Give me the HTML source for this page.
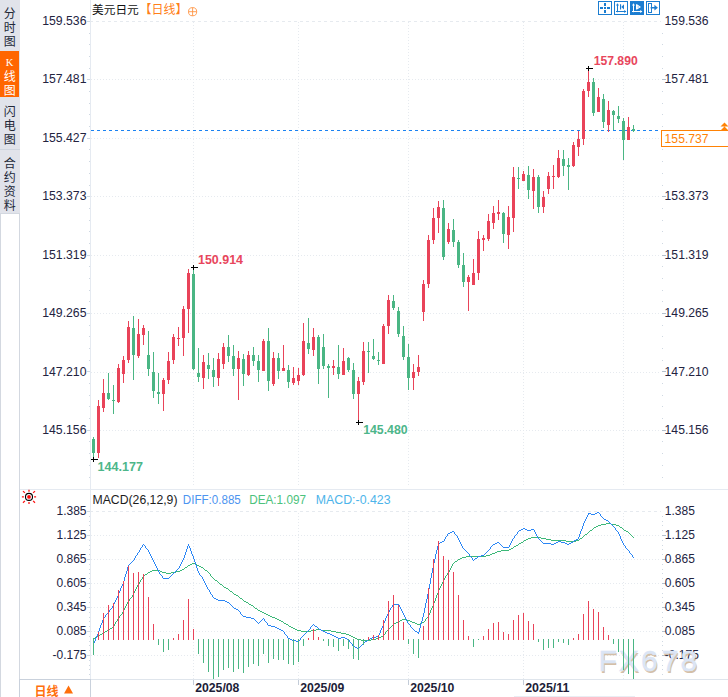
<!DOCTYPE html>
<html lang="zh-CN"><head><meta charset="utf-8"><title>美元日元 日线 K线图</title>
<style>html,body{margin:0;padding:0;background:#fff;overflow:hidden}body{width:728px;height:697px;font-family:"Liberation Sans",sans-serif}svg{display:block}text{font-family:"Liberation Sans",sans-serif}text.cjk{font-family:"Liberation Sans","Noto Sans CJK SC",sans-serif}</style>
</head><body>
<svg width="728" height="697" viewBox="0 0 728 697">
<rect x="0" y="0" width="728" height="697" fill="#fff"/>
<g shape-rendering="crispEdges">
<rect x="0" y="0" width="20" height="213" fill="#e1e3ea"/>
<rect x="0" y="51" width="19" height="46" fill="#ff6600"/>
<rect x="0" y="149" width="20" height="1" fill="#cfd5de"/>
<rect x="0" y="213" width="1" height="484" fill="#d3d8e0"/>
<rect x="19" y="213" width="1" height="484" fill="#d3d8e0"/>
<rect x="0" y="213" width="20" height="1" fill="#d3d8e0"/>
</g>
<text class="cjk" x="9.7" y="17.5" font-size="12" fill="#222838" text-anchor="middle">分</text>
<text class="cjk" x="9.7" y="31.5" font-size="12" fill="#222838" text-anchor="middle">时</text>
<text class="cjk" x="9.7" y="45.5" font-size="12" fill="#222838" text-anchor="middle">图</text>
<text x="9.5" y="65.5" font-size="10.5" fill="#fff" text-anchor="middle" style="font-family:'Liberation Serif',serif">K</text>
<text class="cjk" x="9.7" y="80.5" font-size="12" fill="#fff" text-anchor="middle">线</text>
<text class="cjk" x="9.7" y="94.5" font-size="12" fill="#fff" text-anchor="middle">图</text>
<text class="cjk" x="9.7" y="115.5" font-size="12" fill="#222838" text-anchor="middle">闪</text>
<text class="cjk" x="9.7" y="129.5" font-size="12" fill="#222838" text-anchor="middle">电</text>
<text class="cjk" x="9.7" y="143.5" font-size="12" fill="#222838" text-anchor="middle">图</text>
<text class="cjk" x="9.7" y="167.5" font-size="12" fill="#222838" text-anchor="middle">合</text>
<text class="cjk" x="9.7" y="181.5" font-size="12" fill="#222838" text-anchor="middle">约</text>
<text class="cjk" x="9.7" y="195.5" font-size="12" fill="#222838" text-anchor="middle">资</text>
<text class="cjk" x="9.7" y="209.5" font-size="12" fill="#222838" text-anchor="middle">料</text>
<g shape-rendering="crispEdges">
<rect x="90" y="0" width="1" height="697" fill="#e5eaf1"/>
<line x1="90" x2="661" y1="21.5" y2="21.5" stroke="#e6eaef" stroke-width="1" stroke-dasharray="3 3" stroke-dashoffset="0"/>
<line x1="91" x2="661" y1="79.5" y2="79.5" stroke="#e6eaef" stroke-width="1" stroke-dasharray="1 2" stroke-dashoffset="0"/>
<line x1="91" x2="661" y1="138.5" y2="138.5" stroke="#e6eaef" stroke-width="1" stroke-dasharray="1 2" stroke-dashoffset="0"/>
<line x1="91" x2="661" y1="196.5" y2="196.5" stroke="#e6eaef" stroke-width="1" stroke-dasharray="1 2" stroke-dashoffset="0"/>
<line x1="91" x2="661" y1="255.5" y2="255.5" stroke="#e6eaef" stroke-width="1" stroke-dasharray="1 2" stroke-dashoffset="0"/>
<line x1="91" x2="661" y1="313.5" y2="313.5" stroke="#e6eaef" stroke-width="1" stroke-dasharray="1 2" stroke-dashoffset="0"/>
<line x1="91" x2="661" y1="372.5" y2="372.5" stroke="#e6eaef" stroke-width="1" stroke-dasharray="1 2" stroke-dashoffset="0"/>
<line x1="91" x2="661" y1="430.5" y2="430.5" stroke="#e6eaef" stroke-width="1" stroke-dasharray="1 2" stroke-dashoffset="0"/>
<line x1="193.5" x2="193.5" y1="22" y2="487" stroke="#e6eaef" stroke-width="1" stroke-dasharray="1 2" stroke-dashoffset="0"/>
<line x1="193.5" x2="193.5" y1="513" y2="679" stroke="#e6eaef" stroke-width="1" stroke-dasharray="1 2" stroke-dashoffset="0"/>
<line x1="298.5" x2="298.5" y1="22" y2="487" stroke="#e6eaef" stroke-width="1" stroke-dasharray="1 2" stroke-dashoffset="0"/>
<line x1="298.5" x2="298.5" y1="513" y2="679" stroke="#e6eaef" stroke-width="1" stroke-dasharray="1 2" stroke-dashoffset="0"/>
<line x1="408.5" x2="408.5" y1="22" y2="487" stroke="#e6eaef" stroke-width="1" stroke-dasharray="1 2" stroke-dashoffset="0"/>
<line x1="408.5" x2="408.5" y1="513" y2="679" stroke="#e6eaef" stroke-width="1" stroke-dasharray="1 2" stroke-dashoffset="0"/>
<line x1="523.5" x2="523.5" y1="22" y2="487" stroke="#e6eaef" stroke-width="1" stroke-dasharray="1 2" stroke-dashoffset="0"/>
<line x1="523.5" x2="523.5" y1="513" y2="679" stroke="#e6eaef" stroke-width="1" stroke-dasharray="1 2" stroke-dashoffset="0"/>
<line x1="623.5" x2="623.5" y1="22" y2="487" stroke="#e6eaef" stroke-width="1" stroke-dasharray="1 2" stroke-dashoffset="0"/>
<line x1="623.5" x2="623.5" y1="513" y2="679" stroke="#e6eaef" stroke-width="1" stroke-dasharray="1 2" stroke-dashoffset="0"/>
<rect x="87" y="21" width="3" height="1" fill="#cfd8e2"/>
<rect x="89" y="33" width="1" height="1" fill="#cfd8e2"/>
<rect x="662" y="33" width="1" height="1" fill="#cfd8e2"/>
<rect x="89" y="44" width="1" height="1" fill="#cfd8e2"/>
<rect x="662" y="44" width="1" height="1" fill="#cfd8e2"/>
<rect x="89" y="56" width="1" height="1" fill="#cfd8e2"/>
<rect x="662" y="56" width="1" height="1" fill="#cfd8e2"/>
<rect x="89" y="68" width="1" height="1" fill="#cfd8e2"/>
<rect x="662" y="68" width="1" height="1" fill="#cfd8e2"/>
<rect x="87" y="79" width="3" height="1" fill="#cfd8e2"/>
<rect x="662" y="79" width="4" height="1" fill="#b5c0cd"/>
<rect x="89" y="91" width="1" height="1" fill="#cfd8e2"/>
<rect x="662" y="91" width="1" height="1" fill="#cfd8e2"/>
<rect x="89" y="103" width="1" height="1" fill="#cfd8e2"/>
<rect x="662" y="103" width="1" height="1" fill="#cfd8e2"/>
<rect x="89" y="114" width="1" height="1" fill="#cfd8e2"/>
<rect x="662" y="114" width="1" height="1" fill="#cfd8e2"/>
<rect x="89" y="126" width="1" height="1" fill="#cfd8e2"/>
<rect x="662" y="126" width="1" height="1" fill="#cfd8e2"/>
<rect x="87" y="138" width="3" height="1" fill="#cfd8e2"/>
<rect x="662" y="138" width="4" height="1" fill="#b5c0cd"/>
<rect x="89" y="149" width="1" height="1" fill="#cfd8e2"/>
<rect x="662" y="149" width="1" height="1" fill="#cfd8e2"/>
<rect x="89" y="161" width="1" height="1" fill="#cfd8e2"/>
<rect x="662" y="161" width="1" height="1" fill="#cfd8e2"/>
<rect x="89" y="173" width="1" height="1" fill="#cfd8e2"/>
<rect x="662" y="173" width="1" height="1" fill="#cfd8e2"/>
<rect x="89" y="185" width="1" height="1" fill="#cfd8e2"/>
<rect x="662" y="185" width="1" height="1" fill="#cfd8e2"/>
<rect x="87" y="196" width="3" height="1" fill="#cfd8e2"/>
<rect x="662" y="196" width="4" height="1" fill="#b5c0cd"/>
<rect x="89" y="208" width="1" height="1" fill="#cfd8e2"/>
<rect x="662" y="208" width="1" height="1" fill="#cfd8e2"/>
<rect x="89" y="220" width="1" height="1" fill="#cfd8e2"/>
<rect x="662" y="220" width="1" height="1" fill="#cfd8e2"/>
<rect x="89" y="231" width="1" height="1" fill="#cfd8e2"/>
<rect x="662" y="231" width="1" height="1" fill="#cfd8e2"/>
<rect x="89" y="243" width="1" height="1" fill="#cfd8e2"/>
<rect x="662" y="243" width="1" height="1" fill="#cfd8e2"/>
<rect x="87" y="255" width="3" height="1" fill="#cfd8e2"/>
<rect x="662" y="255" width="4" height="1" fill="#b5c0cd"/>
<rect x="89" y="266" width="1" height="1" fill="#cfd8e2"/>
<rect x="662" y="266" width="1" height="1" fill="#cfd8e2"/>
<rect x="89" y="278" width="1" height="1" fill="#cfd8e2"/>
<rect x="662" y="278" width="1" height="1" fill="#cfd8e2"/>
<rect x="89" y="290" width="1" height="1" fill="#cfd8e2"/>
<rect x="662" y="290" width="1" height="1" fill="#cfd8e2"/>
<rect x="89" y="301" width="1" height="1" fill="#cfd8e2"/>
<rect x="662" y="301" width="1" height="1" fill="#cfd8e2"/>
<rect x="87" y="313" width="3" height="1" fill="#cfd8e2"/>
<rect x="662" y="313" width="4" height="1" fill="#b5c0cd"/>
<rect x="89" y="325" width="1" height="1" fill="#cfd8e2"/>
<rect x="662" y="325" width="1" height="1" fill="#cfd8e2"/>
<rect x="89" y="336" width="1" height="1" fill="#cfd8e2"/>
<rect x="662" y="336" width="1" height="1" fill="#cfd8e2"/>
<rect x="89" y="348" width="1" height="1" fill="#cfd8e2"/>
<rect x="662" y="348" width="1" height="1" fill="#cfd8e2"/>
<rect x="89" y="360" width="1" height="1" fill="#cfd8e2"/>
<rect x="662" y="360" width="1" height="1" fill="#cfd8e2"/>
<rect x="87" y="371" width="3" height="1" fill="#cfd8e2"/>
<rect x="662" y="371" width="4" height="1" fill="#b5c0cd"/>
<rect x="89" y="383" width="1" height="1" fill="#cfd8e2"/>
<rect x="662" y="383" width="1" height="1" fill="#cfd8e2"/>
<rect x="89" y="395" width="1" height="1" fill="#cfd8e2"/>
<rect x="662" y="395" width="1" height="1" fill="#cfd8e2"/>
<rect x="89" y="406" width="1" height="1" fill="#cfd8e2"/>
<rect x="662" y="406" width="1" height="1" fill="#cfd8e2"/>
<rect x="89" y="418" width="1" height="1" fill="#cfd8e2"/>
<rect x="662" y="418" width="1" height="1" fill="#cfd8e2"/>
<rect x="87" y="430" width="3" height="1" fill="#cfd8e2"/>
<rect x="662" y="430" width="4" height="1" fill="#b5c0cd"/>
<rect x="89" y="441" width="1" height="1" fill="#cfd8e2"/>
<rect x="662" y="441" width="1" height="1" fill="#cfd8e2"/>
<rect x="89" y="453" width="1" height="1" fill="#cfd8e2"/>
<rect x="662" y="453" width="1" height="1" fill="#cfd8e2"/>
<rect x="89" y="465" width="1" height="1" fill="#cfd8e2"/>
<rect x="662" y="465" width="1" height="1" fill="#cfd8e2"/>
<rect x="89" y="477" width="1" height="1" fill="#cfd8e2"/>
<rect x="662" y="477" width="1" height="1" fill="#cfd8e2"/>
<rect x="20" y="489" width="708" height="1" fill="#e5eaf1"/>
<line x1="90" x2="661" y1="511.5" y2="511.5" stroke="#e6eaef" stroke-width="1" stroke-dasharray="3 3" stroke-dashoffset="0"/>
<line x1="91" x2="661" y1="535.5" y2="535.5" stroke="#e6eaef" stroke-width="1" stroke-dasharray="1 2" stroke-dashoffset="0"/>
<line x1="91" x2="661" y1="559.5" y2="559.5" stroke="#e6eaef" stroke-width="1" stroke-dasharray="1 2" stroke-dashoffset="0"/>
<line x1="91" x2="661" y1="583.5" y2="583.5" stroke="#e6eaef" stroke-width="1" stroke-dasharray="1 2" stroke-dashoffset="0"/>
<line x1="91" x2="661" y1="607.5" y2="607.5" stroke="#e6eaef" stroke-width="1" stroke-dasharray="1 2" stroke-dashoffset="0"/>
<line x1="91" x2="661" y1="631.5" y2="631.5" stroke="#e6eaef" stroke-width="1" stroke-dasharray="1 2" stroke-dashoffset="0"/>
<line x1="91" x2="661" y1="655.5" y2="655.5" stroke="#e6eaef" stroke-width="1" stroke-dasharray="1 2" stroke-dashoffset="0"/>
<rect x="87" y="511" width="3" height="1" fill="#cfd8e2"/>
<rect x="89" y="516" width="1" height="1" fill="#cfd8e2"/>
<rect x="662" y="516" width="1" height="1" fill="#cfd8e2"/>
<rect x="89" y="521" width="1" height="1" fill="#cfd8e2"/>
<rect x="662" y="521" width="1" height="1" fill="#cfd8e2"/>
<rect x="89" y="525" width="1" height="1" fill="#cfd8e2"/>
<rect x="662" y="525" width="1" height="1" fill="#cfd8e2"/>
<rect x="89" y="530" width="1" height="1" fill="#cfd8e2"/>
<rect x="662" y="530" width="1" height="1" fill="#cfd8e2"/>
<rect x="87" y="535" width="3" height="1" fill="#cfd8e2"/>
<rect x="662" y="535" width="4" height="1" fill="#b5c0cd"/>
<rect x="89" y="540" width="1" height="1" fill="#cfd8e2"/>
<rect x="662" y="540" width="1" height="1" fill="#cfd8e2"/>
<rect x="89" y="545" width="1" height="1" fill="#cfd8e2"/>
<rect x="662" y="545" width="1" height="1" fill="#cfd8e2"/>
<rect x="89" y="549" width="1" height="1" fill="#cfd8e2"/>
<rect x="662" y="549" width="1" height="1" fill="#cfd8e2"/>
<rect x="89" y="554" width="1" height="1" fill="#cfd8e2"/>
<rect x="662" y="554" width="1" height="1" fill="#cfd8e2"/>
<rect x="87" y="559" width="3" height="1" fill="#cfd8e2"/>
<rect x="662" y="559" width="4" height="1" fill="#b5c0cd"/>
<rect x="89" y="564" width="1" height="1" fill="#cfd8e2"/>
<rect x="662" y="564" width="1" height="1" fill="#cfd8e2"/>
<rect x="89" y="569" width="1" height="1" fill="#cfd8e2"/>
<rect x="662" y="569" width="1" height="1" fill="#cfd8e2"/>
<rect x="89" y="573" width="1" height="1" fill="#cfd8e2"/>
<rect x="662" y="573" width="1" height="1" fill="#cfd8e2"/>
<rect x="89" y="578" width="1" height="1" fill="#cfd8e2"/>
<rect x="662" y="578" width="1" height="1" fill="#cfd8e2"/>
<rect x="87" y="583" width="3" height="1" fill="#cfd8e2"/>
<rect x="662" y="583" width="4" height="1" fill="#b5c0cd"/>
<rect x="89" y="588" width="1" height="1" fill="#cfd8e2"/>
<rect x="662" y="588" width="1" height="1" fill="#cfd8e2"/>
<rect x="89" y="593" width="1" height="1" fill="#cfd8e2"/>
<rect x="662" y="593" width="1" height="1" fill="#cfd8e2"/>
<rect x="89" y="597" width="1" height="1" fill="#cfd8e2"/>
<rect x="662" y="597" width="1" height="1" fill="#cfd8e2"/>
<rect x="89" y="602" width="1" height="1" fill="#cfd8e2"/>
<rect x="662" y="602" width="1" height="1" fill="#cfd8e2"/>
<rect x="87" y="607" width="3" height="1" fill="#cfd8e2"/>
<rect x="662" y="607" width="4" height="1" fill="#b5c0cd"/>
<rect x="89" y="612" width="1" height="1" fill="#cfd8e2"/>
<rect x="662" y="612" width="1" height="1" fill="#cfd8e2"/>
<rect x="89" y="617" width="1" height="1" fill="#cfd8e2"/>
<rect x="662" y="617" width="1" height="1" fill="#cfd8e2"/>
<rect x="89" y="621" width="1" height="1" fill="#cfd8e2"/>
<rect x="662" y="621" width="1" height="1" fill="#cfd8e2"/>
<rect x="89" y="626" width="1" height="1" fill="#cfd8e2"/>
<rect x="662" y="626" width="1" height="1" fill="#cfd8e2"/>
<rect x="87" y="631" width="3" height="1" fill="#cfd8e2"/>
<rect x="662" y="631" width="4" height="1" fill="#b5c0cd"/>
<rect x="89" y="636" width="1" height="1" fill="#cfd8e2"/>
<rect x="662" y="636" width="1" height="1" fill="#cfd8e2"/>
<rect x="89" y="641" width="1" height="1" fill="#cfd8e2"/>
<rect x="662" y="641" width="1" height="1" fill="#cfd8e2"/>
<rect x="89" y="645" width="1" height="1" fill="#cfd8e2"/>
<rect x="662" y="645" width="1" height="1" fill="#cfd8e2"/>
<rect x="89" y="650" width="1" height="1" fill="#cfd8e2"/>
<rect x="662" y="650" width="1" height="1" fill="#cfd8e2"/>
<rect x="87" y="655" width="3" height="1" fill="#cfd8e2"/>
<rect x="662" y="655" width="4" height="1" fill="#b5c0cd"/>
<rect x="89" y="660" width="1" height="1" fill="#cfd8e2"/>
<rect x="662" y="660" width="1" height="1" fill="#cfd8e2"/>
<rect x="89" y="665" width="1" height="1" fill="#cfd8e2"/>
<rect x="662" y="665" width="1" height="1" fill="#cfd8e2"/>
<rect x="89" y="669" width="1" height="1" fill="#cfd8e2"/>
<rect x="662" y="669" width="1" height="1" fill="#cfd8e2"/>
<rect x="89" y="674" width="1" height="1" fill="#cfd8e2"/>
<rect x="662" y="674" width="1" height="1" fill="#cfd8e2"/>
<rect x="20" y="679" width="708" height="1" fill="#dfe5ec"/>
<rect x="19" y="679" width="72" height="1" fill="#c9d1dc"/>
<rect x="19" y="679" width="1" height="18" fill="#c9d1dc"/>
<rect x="90" y="679" width="1" height="18" fill="#c9d1dc"/>
<rect x="193" y="680" width="1" height="5" fill="#c3ccd8"/>
<rect x="298" y="680" width="1" height="5" fill="#c3ccd8"/>
<rect x="408" y="680" width="1" height="5" fill="#c3ccd8"/>
<rect x="523" y="680" width="1" height="5" fill="#c3ccd8"/>
<rect x="514" y="696" width="121" height="1" fill="#e9edf3"/>
</g>
<text x="86.5" y="25.3" font-size="12" fill="#23233f" text-anchor="end" textLength="44.3" lengthAdjust="spacingAndGlyphs">159.536</text>
<text x="664.6" y="25.3" font-size="12" fill="#23233f" textLength="44" lengthAdjust="spacingAndGlyphs">159.536</text>
<text x="86.5" y="83.3" font-size="12" fill="#23233f" text-anchor="end" textLength="44.3" lengthAdjust="spacingAndGlyphs">157.481</text>
<text x="664.6" y="83.3" font-size="12" fill="#23233f" textLength="44" lengthAdjust="spacingAndGlyphs">157.481</text>
<text x="86.5" y="142.3" font-size="12" fill="#23233f" text-anchor="end" textLength="44.3" lengthAdjust="spacingAndGlyphs">155.427</text>
<text x="664.6" y="142.3" font-size="12" fill="#23233f" textLength="44" lengthAdjust="spacingAndGlyphs">155.427</text>
<text x="86.5" y="200.3" font-size="12" fill="#23233f" text-anchor="end" textLength="44.3" lengthAdjust="spacingAndGlyphs">153.373</text>
<text x="664.6" y="200.3" font-size="12" fill="#23233f" textLength="44" lengthAdjust="spacingAndGlyphs">153.373</text>
<text x="86.5" y="259.3" font-size="12" fill="#23233f" text-anchor="end" textLength="44.3" lengthAdjust="spacingAndGlyphs">151.319</text>
<text x="664.6" y="259.3" font-size="12" fill="#23233f" textLength="44" lengthAdjust="spacingAndGlyphs">151.319</text>
<text x="86.5" y="317.3" font-size="12" fill="#23233f" text-anchor="end" textLength="44.3" lengthAdjust="spacingAndGlyphs">149.265</text>
<text x="664.6" y="317.3" font-size="12" fill="#23233f" textLength="44" lengthAdjust="spacingAndGlyphs">149.265</text>
<text x="86.5" y="376.3" font-size="12" fill="#23233f" text-anchor="end" textLength="44.3" lengthAdjust="spacingAndGlyphs">147.210</text>
<text x="664.6" y="376.3" font-size="12" fill="#23233f" textLength="44" lengthAdjust="spacingAndGlyphs">147.210</text>
<text x="86.5" y="434.3" font-size="12" fill="#23233f" text-anchor="end" textLength="44.3" lengthAdjust="spacingAndGlyphs">145.156</text>
<text x="664.6" y="434.3" font-size="12" fill="#23233f" textLength="44" lengthAdjust="spacingAndGlyphs">145.156</text>
<text x="86.5" y="515.4" font-size="12" fill="#23233f" text-anchor="end">1.385</text>
<text x="664.8" y="515.4" font-size="12" fill="#23233f">1.385</text>
<text x="86.5" y="539.4" font-size="12" fill="#23233f" text-anchor="end">1.125</text>
<text x="664.8" y="539.4" font-size="12" fill="#23233f">1.125</text>
<text x="86.5" y="563.4" font-size="12" fill="#23233f" text-anchor="end">0.865</text>
<text x="664.8" y="563.4" font-size="12" fill="#23233f">0.865</text>
<text x="86.5" y="587.4" font-size="12" fill="#23233f" text-anchor="end">0.605</text>
<text x="664.8" y="587.4" font-size="12" fill="#23233f">0.605</text>
<text x="86.5" y="611.4" font-size="12" fill="#23233f" text-anchor="end">0.345</text>
<text x="664.8" y="611.4" font-size="12" fill="#23233f">0.345</text>
<text x="86.5" y="635.4" font-size="12" fill="#23233f" text-anchor="end">0.085</text>
<text x="664.8" y="635.4" font-size="12" fill="#23233f">0.085</text>
<text x="86.5" y="659.4" font-size="12" fill="#23233f" text-anchor="end">-0.175</text>
<text x="664.8" y="659.4" font-size="12" fill="#23233f">-0.175</text>
<g font-size="30" style="letter-spacing:2.1px">
<text x="599.4" y="672.5" fill="#b8946c" fill-opacity="0.6">FX6<tspan dx="2">78</tspan></text>
<text x="598.4" y="671.4" fill="#dbe5f5" stroke="#dbe5f5" stroke-width="0.5">FX6<tspan dx="2">78</tspan></text>
</g>
<g shape-rendering="crispEdges">
<line x1="91" x2="659" y1="130.5" y2="130.5" stroke="#1a82f2" stroke-width="1" stroke-dasharray="3 3" stroke-dashoffset="0"/>
</g>
<g shape-rendering="crispEdges">
<rect x="93" y="437" width="1" height="23" fill="#4ab684"/>
<rect x="92" y="439" width="3" height="14" fill="#4ab684"/>
<rect x="98" y="400" width="1" height="58" fill="#e94359"/>
<rect x="97" y="406" width="3" height="47" fill="#e94359"/>
<rect x="103" y="379" width="1" height="33" fill="#e94359"/>
<rect x="102" y="393" width="3" height="15" fill="#e94359"/>
<rect x="108" y="373" width="1" height="27" fill="#4ab684"/>
<rect x="107" y="393" width="3" height="6" fill="#4ab684"/>
<rect x="113" y="385" width="1" height="29" fill="#4ab684"/>
<rect x="112" y="400" width="3" height="1" fill="#4ab684"/>
<rect x="118" y="364" width="1" height="39" fill="#e94359"/>
<rect x="117" y="368" width="3" height="34" fill="#e94359"/>
<rect x="123" y="356" width="1" height="27" fill="#e94359"/>
<rect x="122" y="360" width="3" height="14" fill="#e94359"/>
<rect x="128" y="321" width="1" height="42" fill="#e94359"/>
<rect x="127" y="327" width="3" height="33" fill="#e94359"/>
<rect x="133" y="316" width="1" height="64" fill="#4ab684"/>
<rect x="132" y="328" width="3" height="27" fill="#4ab684"/>
<rect x="138" y="319" width="1" height="39" fill="#e94359"/>
<rect x="137" y="334" width="3" height="22" fill="#e94359"/>
<rect x="143" y="325" width="1" height="20" fill="#e94359"/>
<rect x="142" y="328" width="3" height="7" fill="#e94359"/>
<rect x="148" y="331" width="1" height="45" fill="#4ab684"/>
<rect x="147" y="355" width="3" height="14" fill="#4ab684"/>
<rect x="153" y="352" width="1" height="46" fill="#4ab684"/>
<rect x="152" y="372" width="3" height="19" fill="#4ab684"/>
<rect x="158" y="373" width="1" height="31" fill="#4ab684"/>
<rect x="157" y="392" width="3" height="2" fill="#4ab684"/>
<rect x="163" y="378" width="1" height="33" fill="#e94359"/>
<rect x="162" y="380" width="3" height="14" fill="#e94359"/>
<rect x="168" y="352" width="1" height="32" fill="#e94359"/>
<rect x="167" y="361" width="3" height="19" fill="#e94359"/>
<rect x="173" y="334" width="1" height="30" fill="#e94359"/>
<rect x="172" y="337" width="3" height="23" fill="#e94359"/>
<rect x="178" y="327" width="1" height="19" fill="#e94359"/>
<rect x="177" y="338" width="3" height="1" fill="#e94359"/>
<rect x="183" y="306" width="1" height="50" fill="#e94359"/>
<rect x="182" y="309" width="3" height="29" fill="#e94359"/>
<rect x="188" y="269" width="1" height="64" fill="#e94359"/>
<rect x="187" y="273" width="3" height="36" fill="#e94359"/>
<rect x="193" y="267" width="1" height="103" fill="#4ab684"/>
<rect x="192" y="274" width="3" height="95" fill="#4ab684"/>
<rect x="198" y="348" width="1" height="34" fill="#4ab684"/>
<rect x="197" y="373" width="3" height="4" fill="#4ab684"/>
<rect x="203" y="355" width="1" height="34" fill="#e94359"/>
<rect x="202" y="362" width="3" height="16" fill="#e94359"/>
<rect x="208" y="353" width="1" height="26" fill="#4ab684"/>
<rect x="207" y="365" width="3" height="4" fill="#4ab684"/>
<rect x="213" y="358" width="1" height="29" fill="#4ab684"/>
<rect x="212" y="370" width="3" height="7" fill="#4ab684"/>
<rect x="218" y="353" width="1" height="33" fill="#e94359"/>
<rect x="217" y="359" width="3" height="19" fill="#e94359"/>
<rect x="223" y="343" width="1" height="26" fill="#e94359"/>
<rect x="222" y="347" width="3" height="17" fill="#e94359"/>
<rect x="228" y="335" width="1" height="27" fill="#4ab684"/>
<rect x="227" y="347" width="3" height="9" fill="#4ab684"/>
<rect x="233" y="345" width="1" height="31" fill="#4ab684"/>
<rect x="232" y="356" width="3" height="13" fill="#4ab684"/>
<rect x="238" y="351" width="1" height="49" fill="#e94359"/>
<rect x="237" y="358" width="3" height="11" fill="#e94359"/>
<rect x="243" y="354" width="1" height="32" fill="#4ab684"/>
<rect x="242" y="359" width="3" height="15" fill="#4ab684"/>
<rect x="248" y="351" width="1" height="25" fill="#e94359"/>
<rect x="247" y="355" width="3" height="20" fill="#e94359"/>
<rect x="253" y="347" width="1" height="19" fill="#4ab684"/>
<rect x="252" y="355" width="3" height="6" fill="#4ab684"/>
<rect x="258" y="355" width="1" height="27" fill="#4ab684"/>
<rect x="257" y="361" width="3" height="9" fill="#4ab684"/>
<rect x="263" y="339" width="1" height="32" fill="#e94359"/>
<rect x="262" y="341" width="3" height="30" fill="#e94359"/>
<rect x="268" y="328" width="1" height="63" fill="#4ab684"/>
<rect x="267" y="341" width="3" height="40" fill="#4ab684"/>
<rect x="273" y="352" width="1" height="34" fill="#e94359"/>
<rect x="272" y="358" width="3" height="26" fill="#e94359"/>
<rect x="278" y="353" width="1" height="26" fill="#4ab684"/>
<rect x="277" y="358" width="3" height="13" fill="#4ab684"/>
<rect x="283" y="345" width="1" height="26" fill="#e94359"/>
<rect x="282" y="368" width="3" height="3" fill="#e94359"/>
<rect x="288" y="365" width="1" height="23" fill="#4ab684"/>
<rect x="287" y="370" width="3" height="12" fill="#4ab684"/>
<rect x="293" y="367" width="1" height="18" fill="#e94359"/>
<rect x="292" y="378" width="3" height="5" fill="#e94359"/>
<rect x="298" y="368" width="1" height="17" fill="#e94359"/>
<rect x="297" y="375" width="3" height="6" fill="#e94359"/>
<rect x="303" y="323" width="1" height="53" fill="#e94359"/>
<rect x="302" y="341" width="3" height="34" fill="#e94359"/>
<rect x="308" y="318" width="1" height="36" fill="#4ab684"/>
<rect x="307" y="343" width="3" height="6" fill="#4ab684"/>
<rect x="313" y="328" width="1" height="28" fill="#e94359"/>
<rect x="312" y="337" width="3" height="13" fill="#e94359"/>
<rect x="318" y="335" width="1" height="49" fill="#4ab684"/>
<rect x="317" y="337" width="3" height="32" fill="#4ab684"/>
<rect x="323" y="334" width="1" height="35" fill="#4ab684"/>
<rect x="322" y="347" width="3" height="19" fill="#4ab684"/>
<rect x="328" y="364" width="1" height="34" fill="#4ab684"/>
<rect x="327" y="366" width="3" height="2" fill="#4ab684"/>
<rect x="333" y="360" width="1" height="15" fill="#e94359"/>
<rect x="332" y="366" width="3" height="2" fill="#e94359"/>
<rect x="338" y="345" width="1" height="34" fill="#4ab684"/>
<rect x="337" y="367" width="3" height="7" fill="#4ab684"/>
<rect x="343" y="348" width="1" height="27" fill="#e94359"/>
<rect x="342" y="361" width="3" height="14" fill="#e94359"/>
<rect x="348" y="357" width="1" height="15" fill="#4ab684"/>
<rect x="347" y="358" width="3" height="12" fill="#4ab684"/>
<rect x="353" y="363" width="1" height="36" fill="#4ab684"/>
<rect x="352" y="370" width="3" height="24" fill="#4ab684"/>
<rect x="358" y="377" width="1" height="46" fill="#e94359"/>
<rect x="357" y="381" width="3" height="13" fill="#e94359"/>
<rect x="363" y="342" width="1" height="43" fill="#e94359"/>
<rect x="362" y="351" width="3" height="31" fill="#e94359"/>
<rect x="368" y="342" width="1" height="31" fill="#4ab684"/>
<rect x="367" y="351" width="3" height="1" fill="#4ab684"/>
<rect x="373" y="339" width="1" height="21" fill="#4ab684"/>
<rect x="372" y="356" width="3" height="3" fill="#4ab684"/>
<rect x="378" y="352" width="1" height="13" fill="#4ab684"/>
<rect x="377" y="360" width="3" height="1" fill="#4ab684"/>
<rect x="383" y="324" width="1" height="40" fill="#e94359"/>
<rect x="382" y="326" width="3" height="38" fill="#e94359"/>
<rect x="388" y="295" width="1" height="39" fill="#e94359"/>
<rect x="387" y="300" width="3" height="26" fill="#e94359"/>
<rect x="393" y="295" width="1" height="15" fill="#4ab684"/>
<rect x="392" y="301" width="3" height="7" fill="#4ab684"/>
<rect x="398" y="307" width="1" height="30" fill="#4ab684"/>
<rect x="397" y="311" width="3" height="23" fill="#4ab684"/>
<rect x="403" y="326" width="1" height="34" fill="#4ab684"/>
<rect x="402" y="336" width="3" height="21" fill="#4ab684"/>
<rect x="408" y="344" width="1" height="46" fill="#4ab684"/>
<rect x="407" y="357" width="3" height="21" fill="#4ab684"/>
<rect x="413" y="364" width="1" height="26" fill="#e94359"/>
<rect x="412" y="372" width="3" height="6" fill="#e94359"/>
<rect x="418" y="355" width="1" height="21" fill="#e94359"/>
<rect x="417" y="367" width="3" height="5" fill="#e94359"/>
<rect x="423" y="280" width="1" height="41" fill="#e94359"/>
<rect x="422" y="284" width="3" height="28" fill="#e94359"/>
<rect x="428" y="235" width="1" height="53" fill="#e94359"/>
<rect x="427" y="240" width="3" height="44" fill="#e94359"/>
<rect x="433" y="208" width="1" height="36" fill="#e94359"/>
<rect x="432" y="218" width="3" height="22" fill="#e94359"/>
<rect x="438" y="201" width="1" height="32" fill="#e94359"/>
<rect x="437" y="207" width="3" height="11" fill="#e94359"/>
<rect x="443" y="200" width="1" height="60" fill="#4ab684"/>
<rect x="442" y="208" width="3" height="49" fill="#4ab684"/>
<rect x="448" y="223" width="1" height="21" fill="#e94359"/>
<rect x="447" y="229" width="3" height="13" fill="#e94359"/>
<rect x="453" y="219" width="1" height="28" fill="#4ab684"/>
<rect x="452" y="230" width="3" height="12" fill="#4ab684"/>
<rect x="458" y="240" width="1" height="28" fill="#4ab684"/>
<rect x="457" y="242" width="3" height="23" fill="#4ab684"/>
<rect x="463" y="253" width="1" height="34" fill="#4ab684"/>
<rect x="462" y="265" width="3" height="17" fill="#4ab684"/>
<rect x="468" y="275" width="1" height="36" fill="#e94359"/>
<rect x="467" y="277" width="3" height="5" fill="#e94359"/>
<rect x="473" y="259" width="1" height="26" fill="#e94359"/>
<rect x="472" y="273" width="3" height="12" fill="#e94359"/>
<rect x="478" y="231" width="1" height="49" fill="#e94359"/>
<rect x="477" y="239" width="3" height="34" fill="#e94359"/>
<rect x="483" y="235" width="1" height="16" fill="#e94359"/>
<rect x="482" y="238" width="3" height="2" fill="#e94359"/>
<rect x="488" y="214" width="1" height="27" fill="#e94359"/>
<rect x="487" y="221" width="3" height="18" fill="#e94359"/>
<rect x="493" y="206" width="1" height="23" fill="#e94359"/>
<rect x="492" y="213" width="3" height="10" fill="#e94359"/>
<rect x="498" y="200" width="1" height="20" fill="#e94359"/>
<rect x="497" y="212" width="3" height="2" fill="#e94359"/>
<rect x="503" y="212" width="1" height="31" fill="#4ab684"/>
<rect x="502" y="213" width="3" height="21" fill="#4ab684"/>
<rect x="508" y="206" width="1" height="43" fill="#e94359"/>
<rect x="507" y="217" width="3" height="18" fill="#e94359"/>
<rect x="513" y="167" width="1" height="65" fill="#e94359"/>
<rect x="512" y="177" width="3" height="41" fill="#e94359"/>
<rect x="518" y="167" width="1" height="22" fill="#4ab684"/>
<rect x="517" y="178" width="3" height="1" fill="#4ab684"/>
<rect x="523" y="171" width="1" height="10" fill="#e94359"/>
<rect x="522" y="174" width="3" height="7" fill="#e94359"/>
<rect x="528" y="166" width="1" height="33" fill="#4ab684"/>
<rect x="527" y="175" width="3" height="15" fill="#4ab684"/>
<rect x="533" y="169" width="1" height="40" fill="#e94359"/>
<rect x="532" y="177" width="3" height="14" fill="#e94359"/>
<rect x="538" y="175" width="1" height="38" fill="#4ab684"/>
<rect x="537" y="177" width="3" height="30" fill="#4ab684"/>
<rect x="543" y="191" width="1" height="22" fill="#e94359"/>
<rect x="542" y="197" width="3" height="10" fill="#e94359"/>
<rect x="548" y="172" width="1" height="22" fill="#e94359"/>
<rect x="547" y="176" width="3" height="13" fill="#e94359"/>
<rect x="553" y="165" width="1" height="24" fill="#e94359"/>
<rect x="552" y="176" width="3" height="1" fill="#e94359"/>
<rect x="558" y="150" width="1" height="28" fill="#e94359"/>
<rect x="557" y="158" width="3" height="19" fill="#e94359"/>
<rect x="563" y="150" width="1" height="26" fill="#4ab684"/>
<rect x="562" y="159" width="3" height="7" fill="#4ab684"/>
<rect x="568" y="158" width="1" height="32" fill="#4ab684"/>
<rect x="567" y="165" width="3" height="2" fill="#4ab684"/>
<rect x="573" y="142" width="1" height="25" fill="#e94359"/>
<rect x="572" y="145" width="3" height="21" fill="#e94359"/>
<rect x="578" y="131" width="1" height="25" fill="#e94359"/>
<rect x="577" y="139" width="3" height="8" fill="#e94359"/>
<rect x="583" y="89" width="1" height="56" fill="#e94359"/>
<rect x="582" y="91" width="3" height="48" fill="#e94359"/>
<rect x="588" y="68" width="1" height="29" fill="#e94359"/>
<rect x="587" y="82" width="3" height="9" fill="#e94359"/>
<rect x="593" y="78" width="1" height="38" fill="#4ab684"/>
<rect x="592" y="82" width="3" height="31" fill="#4ab684"/>
<rect x="598" y="88" width="1" height="24" fill="#e94359"/>
<rect x="597" y="97" width="3" height="15" fill="#e94359"/>
<rect x="603" y="94" width="1" height="34" fill="#4ab684"/>
<rect x="602" y="99" width="3" height="23" fill="#4ab684"/>
<rect x="608" y="101" width="1" height="31" fill="#e94359"/>
<rect x="607" y="110" width="3" height="15" fill="#e94359"/>
<rect x="613" y="110" width="1" height="20" fill="#4ab684"/>
<rect x="612" y="111" width="3" height="4" fill="#4ab684"/>
<rect x="618" y="106" width="1" height="17" fill="#4ab684"/>
<rect x="617" y="116" width="3" height="3" fill="#4ab684"/>
<rect x="623" y="118" width="1" height="42" fill="#4ab684"/>
<rect x="622" y="121" width="3" height="19" fill="#4ab684"/>
<rect x="628" y="117" width="1" height="23" fill="#e94359"/>
<rect x="627" y="127" width="3" height="13" fill="#e94359"/>
<rect x="633" y="125" width="1" height="7" fill="#4ab684"/>
<rect x="632" y="129" width="3" height="2" fill="#4ab684"/>
</g>
<g shape-rendering="crispEdges" fill="#000">
<rect x="91" y="459" width="7" height="1" fill="#000"/>
<rect x="93" y="457" width="1" height="5" fill="#000"/>
</g>
<g shape-rendering="crispEdges" fill="#000">
<rect x="191" y="267" width="7" height="1" fill="#000"/>
<rect x="193" y="265" width="1" height="5" fill="#000"/>
</g>
<g shape-rendering="crispEdges" fill="#000">
<rect x="356" y="422" width="7" height="1" fill="#000"/>
<rect x="358" y="420" width="1" height="5" fill="#000"/>
</g>
<g shape-rendering="crispEdges" fill="#000">
<rect x="586" y="68" width="7" height="1" fill="#000"/>
<rect x="588" y="66" width="1" height="5" fill="#000"/>
</g>
<text x="97.6" y="471" font-size="12" fill="#4db68a" font-weight="bold" textLength="45.4" lengthAdjust="spacingAndGlyphs">144.177</text>
<text x="363.2" y="433.8" font-size="12" fill="#4db68a" font-weight="bold" textLength="44.4" lengthAdjust="spacingAndGlyphs">145.480</text>
<text x="198" y="264" font-size="12" fill="#e8465c" font-weight="bold" textLength="45" lengthAdjust="spacingAndGlyphs">150.914</text>
<text x="593.7" y="65" font-size="12" fill="#e8465c" font-weight="bold" textLength="44" lengthAdjust="spacingAndGlyphs">157.890</text>
<path d="M93 638h1v1h-1zM94 638h1v1h-1zM95 637h1v1h-1zM96 637h1v1h-1zM97 636h1v1h-1zM98 636h1v1h-1zM99 635h1v1h-1zM100 634h1v1h-1zM101 634h1v1h-1zM102 633h1v1h-1zM103 632h1v1h-1zM104 632h1v1h-1zM105 631h1v1h-1zM106 631h1v1h-1zM107 630h1v1h-1zM108 630h1v1h-1zM109 629h1v1h-1zM110 628h1v1h-1zM111 628h1v1h-1zM112 627h1v1h-1zM113 626h1v1h-1zM114 624h1v2h-1zM115 622h1v2h-1zM116 621h1v1h-1zM117 619h1v2h-1zM118 618h1v1h-1zM119 616h1v2h-1zM120 615h1v1h-1zM121 614h1v1h-1zM122 612h1v2h-1zM123 610h1v2h-1zM124 608h1v2h-1zM125 606h1v2h-1zM126 604h1v2h-1zM127 602h1v2h-1zM128 601h1v1h-1zM129 599h1v2h-1zM130 598h1v1h-1zM131 597h1v1h-1zM132 595h1v2h-1zM133 593h1v2h-1zM134 591h1v2h-1zM135 589h1v2h-1zM136 587h1v2h-1zM137 585h1v2h-1zM138 584h1v1h-1zM139 582h1v2h-1zM140 580h1v2h-1zM141 579h1v1h-1zM142 577h1v2h-1zM143 576h1v1h-1zM144 575h1v1h-1zM145 574h1v1h-1zM146 574h1v1h-1zM147 573h1v1h-1zM148 572h1v1h-1zM149 572h1v1h-1zM150 571h1v1h-1zM151 571h1v1h-1zM152 570h1v1h-1zM153 570h1v1h-1zM154 570h1v1h-1zM155 570h1v1h-1zM156 570h1v1h-1zM157 570h1v1h-1zM158 570h1v1h-1zM159 570h1v1h-1zM160 571h1v1h-1zM161 571h1v1h-1zM162 572h1v1h-1zM163 572h1v1h-1zM164 572h1v1h-1zM165 572h1v1h-1zM166 573h1v1h-1zM167 573h1v1h-1zM168 573h1v1h-1zM169 573h1v1h-1zM170 573h1v1h-1zM171 572h1v1h-1zM172 572h1v1h-1zM173 572h1v1h-1zM174 572h1v1h-1zM175 572h1v1h-1zM176 571h1v1h-1zM177 571h1v1h-1zM178 571h1v1h-1zM179 571h1v1h-1zM180 570h1v1h-1zM181 570h1v1h-1zM182 569h1v1h-1zM183 569h1v1h-1zM184 568h1v1h-1zM185 567h1v1h-1zM186 567h1v1h-1zM187 566h1v1h-1zM188 565h1v1h-1zM189 565h1v1h-1zM190 564h1v1h-1zM191 564h1v1h-1zM192 563h1v1h-1zM193 563h1v1h-1zM194 563h1v1h-1zM195 564h1v1h-1zM196 564h1v1h-1zM197 565h1v1h-1zM198 565h1v1h-1zM199 566h1v1h-1zM200 566h1v1h-1zM201 567h1v1h-1zM202 567h1v1h-1zM203 568h1v1h-1zM204 569h1v1h-1zM205 570h1v1h-1zM206 570h1v1h-1zM207 571h1v1h-1zM208 572h1v1h-1zM209 573h1v1h-1zM210 574h1v2h-1zM211 576h1v1h-1zM212 577h1v1h-1zM213 578h1v1h-1zM214 579h1v1h-1zM215 580h1v1h-1zM216 580h1v1h-1zM217 581h1v1h-1zM218 582h1v1h-1zM219 583h1v1h-1zM220 584h1v1h-1zM221 584h1v1h-1zM222 585h1v1h-1zM223 586h1v1h-1zM224 587h1v1h-1zM225 587h1v1h-1zM226 588h1v1h-1zM227 588h1v1h-1zM228 589h1v1h-1zM229 590h1v1h-1zM230 591h1v1h-1zM231 591h1v1h-1zM232 592h1v1h-1zM233 593h1v1h-1zM234 594h1v1h-1zM235 594h1v1h-1zM236 595h1v1h-1zM237 595h1v1h-1zM238 596h1v1h-1zM239 597h1v1h-1zM240 598h1v1h-1zM241 598h1v1h-1zM242 599h1v1h-1zM243 600h1v1h-1zM244 601h1v1h-1zM245 601h1v1h-1zM246 602h1v1h-1zM247 602h1v1h-1zM248 603h1v1h-1zM249 604h1v1h-1zM250 604h1v1h-1zM251 605h1v1h-1zM252 605h1v1h-1zM253 606h1v1h-1zM254 607h1v1h-1zM255 608h1v1h-1zM256 608h1v1h-1zM257 609h1v1h-1zM258 610h1v1h-1zM259 610h1v1h-1zM260 611h1v1h-1zM261 611h1v1h-1zM262 612h1v1h-1zM263 612h1v1h-1zM264 613h1v1h-1zM265 613h1v1h-1zM266 614h1v1h-1zM267 614h1v1h-1zM268 615h1v1h-1zM269 615h1v1h-1zM270 616h1v1h-1zM271 616h1v1h-1zM272 617h1v1h-1zM273 617h1v1h-1zM274 617h1v1h-1zM275 618h1v1h-1zM276 618h1v1h-1zM277 619h1v1h-1zM278 619h1v1h-1zM279 620h1v1h-1zM280 620h1v1h-1zM281 621h1v1h-1zM282 621h1v1h-1zM283 622h1v1h-1zM284 623h1v1h-1zM285 623h1v1h-1zM286 624h1v1h-1zM287 624h1v1h-1zM288 625h1v1h-1zM289 626h1v1h-1zM290 626h1v1h-1zM291 627h1v1h-1zM292 627h1v1h-1zM293 628h1v1h-1zM294 628h1v1h-1zM295 629h1v1h-1zM296 629h1v1h-1zM297 630h1v1h-1zM298 630h1v1h-1zM299 630h1v1h-1zM300 630h1v1h-1zM301 631h1v1h-1zM302 631h1v1h-1zM303 631h1v1h-1zM304 631h1v1h-1zM305 631h1v1h-1zM306 631h1v1h-1zM307 631h1v1h-1zM308 631h1v1h-1zM309 631h1v1h-1zM310 631h1v1h-1zM311 630h1v1h-1zM312 630h1v1h-1zM313 630h1v1h-1zM314 630h1v1h-1zM315 630h1v1h-1zM316 629h1v1h-1zM317 629h1v1h-1zM318 629h1v1h-1zM319 629h1v1h-1zM320 629h1v1h-1zM321 630h1v1h-1zM322 630h1v1h-1zM323 630h1v1h-1zM324 630h1v1h-1zM325 630h1v1h-1zM326 630h1v1h-1zM327 630h1v1h-1zM328 630h1v1h-1zM329 630h1v1h-1zM330 630h1v1h-1zM331 631h1v1h-1zM332 631h1v1h-1zM333 631h1v1h-1zM334 631h1v1h-1zM335 631h1v1h-1zM336 632h1v1h-1zM337 632h1v1h-1zM338 632h1v1h-1zM339 632h1v1h-1zM340 632h1v1h-1zM341 633h1v1h-1zM342 633h1v1h-1zM343 633h1v1h-1zM344 633h1v1h-1zM345 633h1v1h-1zM346 634h1v1h-1zM347 634h1v1h-1zM348 634h1v1h-1zM349 635h1v1h-1zM350 635h1v1h-1zM351 636h1v1h-1zM352 636h1v1h-1zM353 637h1v1h-1zM354 637h1v1h-1zM355 638h1v1h-1zM356 638h1v1h-1zM357 639h1v1h-1zM358 639h1v1h-1zM359 639h1v1h-1zM360 639h1v1h-1zM361 640h1v1h-1zM362 640h1v1h-1zM363 640h1v1h-1zM364 640h1v1h-1zM365 640h1v1h-1zM366 640h1v1h-1zM367 640h1v1h-1zM368 640h1v1h-1zM369 640h1v1h-1zM370 640h1v1h-1zM371 639h1v1h-1zM372 639h1v1h-1zM373 639h1v1h-1zM374 639h1v1h-1zM375 639h1v1h-1zM376 638h1v1h-1zM377 638h1v1h-1zM378 638h1v1h-1zM379 637h1v1h-1zM380 637h1v1h-1zM381 636h1v1h-1zM382 636h1v1h-1zM383 635h1v1h-1zM384 634h1v1h-1zM385 632h1v2h-1zM386 631h1v1h-1zM387 630h1v1h-1zM388 629h1v1h-1zM389 628h1v1h-1zM390 627h1v1h-1zM391 626h1v1h-1zM392 625h1v1h-1zM393 624h1v1h-1zM394 623h1v1h-1zM395 623h1v1h-1zM396 622h1v1h-1zM397 622h1v1h-1zM398 621h1v1h-1zM399 621h1v1h-1zM400 620h1v1h-1zM401 620h1v1h-1zM402 619h1v1h-1zM403 619h1v1h-1zM404 619h1v1h-1zM405 619h1v1h-1zM406 620h1v1h-1zM407 620h1v1h-1zM408 620h1v1h-1zM409 620h1v1h-1zM410 621h1v1h-1zM411 621h1v1h-1zM412 622h1v1h-1zM413 622h1v1h-1zM414 622h1v1h-1zM415 623h1v1h-1zM416 623h1v1h-1zM417 624h1v1h-1zM418 624h1v1h-1zM419 624h1v1h-1zM420 623h1v1h-1zM421 623h1v1h-1zM422 622h1v1h-1zM423 622h1v1h-1zM424 621h1v1h-1zM425 619h1v2h-1zM426 618h1v1h-1zM427 617h1v1h-1zM428 615h1v2h-1zM429 613h1v2h-1zM430 610h1v3h-1zM431 608h1v2h-1zM432 606h1v2h-1zM433 603h1v3h-1zM434 601h1v2h-1zM435 598h1v3h-1zM436 595h1v3h-1zM437 593h1v2h-1zM438 590h1v3h-1zM439 588h1v2h-1zM440 586h1v2h-1zM441 584h1v2h-1zM442 582h1v2h-1zM443 580h1v2h-1zM444 578h1v2h-1zM445 576h1v2h-1zM446 575h1v1h-1zM447 573h1v2h-1zM448 572h1v1h-1zM449 570h1v2h-1zM450 568h1v2h-1zM451 566h1v2h-1zM452 564h1v2h-1zM453 563h1v1h-1zM454 562h1v1h-1zM455 561h1v1h-1zM456 561h1v1h-1zM457 560h1v1h-1zM458 559h1v1h-1zM459 559h1v1h-1zM460 558h1v1h-1zM461 558h1v1h-1zM462 557h1v1h-1zM463 557h1v1h-1zM464 557h1v1h-1zM465 557h1v1h-1zM466 556h1v1h-1zM467 556h1v1h-1zM468 556h1v1h-1zM469 556h1v1h-1zM470 556h1v1h-1zM471 556h1v1h-1zM472 556h1v1h-1zM473 556h1v1h-1zM474 556h1v1h-1zM475 556h1v1h-1zM476 556h1v1h-1zM477 556h1v1h-1zM478 556h1v1h-1zM479 556h1v1h-1zM480 556h1v1h-1zM481 556h1v1h-1zM482 556h1v1h-1zM483 556h1v1h-1zM484 556h1v1h-1zM485 556h1v1h-1zM486 555h1v1h-1zM487 555h1v1h-1zM488 555h1v1h-1zM489 555h1v1h-1zM490 554h1v1h-1zM491 554h1v1h-1zM492 553h1v1h-1zM493 553h1v1h-1zM494 553h1v1h-1zM495 552h1v1h-1zM496 552h1v1h-1zM497 551h1v1h-1zM498 551h1v1h-1zM499 551h1v1h-1zM500 551h1v1h-1zM501 550h1v1h-1zM502 550h1v1h-1zM503 550h1v1h-1zM504 550h1v1h-1zM505 550h1v1h-1zM506 550h1v1h-1zM507 550h1v1h-1zM508 550h1v1h-1zM509 549h1v1h-1zM510 549h1v1h-1zM511 548h1v1h-1zM512 548h1v1h-1zM513 547h1v1h-1zM514 546h1v1h-1zM515 546h1v1h-1zM516 545h1v1h-1zM517 545h1v1h-1zM518 544h1v1h-1zM519 543h1v1h-1zM520 543h1v1h-1zM521 542h1v1h-1zM522 542h1v1h-1zM523 541h1v1h-1zM524 540h1v1h-1zM525 540h1v1h-1zM526 539h1v1h-1zM527 539h1v1h-1zM528 538h1v1h-1zM529 538h1v1h-1zM530 538h1v1h-1zM531 537h1v1h-1zM532 537h1v1h-1zM533 537h1v1h-1zM534 537h1v1h-1zM535 537h1v1h-1zM536 537h1v1h-1zM537 537h1v1h-1zM538 537h1v1h-1zM539 537h1v1h-1zM540 537h1v1h-1zM541 538h1v1h-1zM542 538h1v1h-1zM543 538h1v1h-1zM544 538h1v1h-1zM545 538h1v1h-1zM546 539h1v1h-1zM547 539h1v1h-1zM548 539h1v1h-1zM549 539h1v1h-1zM550 539h1v1h-1zM551 540h1v1h-1zM552 540h1v1h-1zM553 540h1v1h-1zM554 540h1v1h-1zM555 540h1v1h-1zM556 540h1v1h-1zM557 540h1v1h-1zM558 540h1v1h-1zM559 540h1v1h-1zM560 540h1v1h-1zM561 540h1v1h-1zM562 540h1v1h-1zM563 540h1v1h-1zM564 540h1v1h-1zM565 540h1v1h-1zM566 541h1v1h-1zM567 541h1v1h-1zM568 541h1v1h-1zM569 541h1v1h-1zM570 541h1v1h-1zM571 541h1v1h-1zM572 541h1v1h-1zM573 541h1v1h-1zM574 541h1v1h-1zM575 541h1v1h-1zM576 540h1v1h-1zM577 540h1v1h-1zM578 540h1v1h-1zM579 539h1v1h-1zM580 538h1v1h-1zM581 538h1v1h-1zM582 537h1v1h-1zM583 536h1v1h-1zM584 535h1v1h-1zM585 534h1v1h-1zM586 534h1v1h-1zM587 533h1v1h-1zM588 532h1v1h-1zM589 531h1v1h-1zM590 530h1v1h-1zM591 530h1v1h-1zM592 529h1v1h-1zM593 528h1v1h-1zM594 527h1v1h-1zM595 527h1v1h-1zM596 526h1v1h-1zM597 526h1v1h-1zM598 525h1v1h-1zM599 525h1v1h-1zM600 525h1v1h-1zM601 524h1v1h-1zM602 524h1v1h-1zM603 524h1v1h-1zM604 524h1v1h-1zM605 524h1v1h-1zM606 523h1v1h-1zM607 523h1v1h-1zM608 523h1v1h-1zM609 523h1v1h-1zM610 523h1v1h-1zM611 524h1v1h-1zM612 524h1v1h-1zM613 524h1v1h-1zM614 524h1v1h-1zM615 524h1v1h-1zM616 525h1v1h-1zM617 525h1v1h-1zM618 525h1v1h-1zM619 526h1v1h-1zM620 527h1v1h-1zM621 527h1v1h-1zM622 528h1v1h-1zM623 529h1v1h-1zM624 530h1v1h-1zM625 530h1v1h-1zM626 531h1v1h-1zM627 531h1v1h-1zM628 532h1v1h-1zM629 533h1v1h-1zM630 534h1v1h-1zM631 535h1v1h-1zM632 536h1v1h-1zM633 537h1v1h-1z" fill="#3cb878" shape-rendering="crispEdges"/>
<path d="M93 643h1v2h-1zM94 641h1v2h-1zM95 638h1v3h-1zM96 636h1v2h-1zM97 634h1v2h-1zM98 631h1v3h-1zM99 628h1v3h-1zM100 625h1v3h-1zM101 623h1v2h-1zM102 620h1v3h-1zM103 618h1v2h-1zM104 617h1v1h-1zM105 615h1v2h-1zM106 614h1v1h-1zM107 613h1v1h-1zM108 612h1v1h-1zM109 610h1v2h-1zM110 609h1v1h-1zM111 608h1v1h-1zM112 606h1v2h-1zM113 604h1v2h-1zM114 602h1v2h-1zM115 600h1v2h-1zM116 598h1v2h-1zM117 596h1v2h-1zM118 593h1v3h-1zM119 591h1v2h-1zM120 588h1v3h-1zM121 586h1v2h-1zM122 584h1v2h-1zM123 581h1v3h-1zM124 577h1v4h-1zM125 574h1v3h-1zM126 571h1v3h-1zM127 567h1v4h-1zM128 565h1v2h-1zM129 564h1v1h-1zM130 563h1v1h-1zM131 562h1v1h-1zM132 561h1v1h-1zM133 560h1v1h-1zM134 558h1v2h-1zM135 556h1v2h-1zM136 555h1v1h-1zM137 553h1v2h-1zM138 552h1v1h-1zM139 550h1v2h-1zM140 548h1v2h-1zM141 547h1v1h-1zM142 545h1v2h-1zM143 544h1v1h-1zM144 545h1v1h-1zM145 546h1v2h-1zM146 548h1v1h-1zM147 549h1v1h-1zM148 550h1v2h-1zM149 552h1v2h-1zM150 554h1v2h-1zM151 556h1v2h-1zM152 558h1v2h-1zM153 560h1v2h-1zM154 562h1v2h-1zM155 564h1v2h-1zM156 566h1v2h-1zM157 568h1v2h-1zM158 570h1v2h-1zM159 572h1v2h-1zM160 574h1v1h-1zM161 575h1v1h-1zM162 576h1v2h-1zM163 578h1v1h-1zM164 578h1v1h-1zM165 578h1v1h-1zM166 578h1v1h-1zM167 578h1v1h-1zM168 578h1v1h-1zM169 577h1v1h-1zM170 576h1v1h-1zM171 575h1v1h-1zM172 574h1v1h-1zM173 573h1v1h-1zM174 572h1v1h-1zM175 571h1v1h-1zM176 570h1v1h-1zM177 569h1v1h-1zM178 568h1v1h-1zM179 566h1v2h-1zM180 564h1v2h-1zM181 562h1v2h-1zM182 560h1v2h-1zM183 558h1v2h-1zM184 555h1v3h-1zM185 552h1v3h-1zM186 549h1v3h-1zM187 546h1v3h-1zM188 544h1v2h-1zM189 546h1v2h-1zM190 548h1v3h-1zM191 551h1v3h-1zM192 554h1v2h-1zM193 556h1v3h-1zM194 559h1v3h-1zM195 562h1v3h-1zM196 565h1v3h-1zM197 568h1v3h-1zM198 571h1v2h-1zM199 573h1v2h-1zM200 575h1v1h-1zM201 576h1v1h-1zM202 577h1v2h-1zM203 579h1v2h-1zM204 581h1v2h-1zM205 583h1v2h-1zM206 585h1v2h-1zM207 587h1v2h-1zM208 589h1v1h-1zM209 590h1v2h-1zM210 592h1v2h-1zM211 594h1v1h-1zM212 595h1v2h-1zM213 597h1v1h-1zM214 598h1v1h-1zM215 598h1v1h-1zM216 599h1v1h-1zM217 599h1v1h-1zM218 600h1v1h-1zM219 600h1v1h-1zM220 600h1v1h-1zM221 600h1v1h-1zM222 600h1v1h-1zM223 600h1v1h-1zM224 600h1v1h-1zM225 601h1v1h-1zM226 601h1v1h-1zM227 602h1v1h-1zM228 602h1v1h-1zM229 603h1v1h-1zM230 604h1v1h-1zM231 605h1v1h-1zM232 606h1v1h-1zM233 607h1v1h-1zM234 608h1v1h-1zM235 608h1v1h-1zM236 609h1v1h-1zM237 609h1v1h-1zM238 610h1v1h-1zM239 611h1v1h-1zM240 612h1v2h-1zM241 614h1v1h-1zM242 615h1v1h-1zM243 616h1v1h-1zM244 616h1v1h-1zM245 616h1v1h-1zM246 617h1v1h-1zM247 617h1v1h-1zM248 617h1v1h-1zM249 617h1v1h-1zM250 617h1v1h-1zM251 618h1v1h-1zM252 618h1v1h-1zM253 618h1v1h-1zM254 619h1v1h-1zM255 620h1v1h-1zM256 621h1v1h-1zM257 622h1v1h-1zM258 623h1v1h-1zM259 622h1v1h-1zM260 621h1v1h-1zM261 620h1v1h-1zM262 619h1v1h-1zM263 618h1v1h-1zM264 619h1v2h-1zM265 621h1v1h-1zM266 622h1v1h-1zM267 623h1v2h-1zM268 625h1v1h-1zM269 625h1v1h-1zM270 625h1v1h-1zM271 626h1v1h-1zM272 626h1v1h-1zM273 626h1v1h-1zM274 626h1v1h-1zM275 627h1v1h-1zM276 627h1v1h-1zM277 628h1v1h-1zM278 628h1v1h-1zM279 629h1v1h-1zM280 629h1v1h-1zM281 630h1v1h-1zM282 630h1v1h-1zM283 631h1v1h-1zM284 632h1v2h-1zM285 634h1v1h-1zM286 635h1v1h-1zM287 636h1v2h-1zM288 638h1v1h-1zM289 638h1v1h-1zM290 639h1v1h-1zM291 639h1v1h-1zM292 640h1v1h-1zM293 640h1v1h-1zM294 640h1v1h-1zM295 640h1v1h-1zM296 641h1v1h-1zM297 641h1v1h-1zM298 641h1v1h-1zM299 640h1v1h-1zM300 638h1v2h-1zM301 637h1v1h-1zM302 636h1v1h-1zM303 635h1v1h-1zM304 634h1v1h-1zM305 633h1v1h-1zM306 632h1v1h-1zM307 631h1v1h-1zM308 630h1v1h-1zM309 629h1v1h-1zM310 627h1v2h-1zM311 626h1v1h-1zM312 625h1v1h-1zM313 624h1v1h-1zM314 625h1v1h-1zM315 626h1v1h-1zM316 626h1v1h-1zM317 627h1v1h-1zM318 628h1v1h-1zM319 629h1v1h-1zM320 629h1v1h-1zM321 630h1v1h-1zM322 630h1v1h-1zM323 631h1v1h-1zM324 631h1v1h-1zM325 632h1v1h-1zM326 632h1v1h-1zM327 633h1v1h-1zM328 633h1v1h-1zM329 633h1v1h-1zM330 634h1v1h-1zM331 634h1v1h-1zM332 635h1v1h-1zM333 635h1v1h-1zM334 636h1v1h-1zM335 636h1v1h-1zM336 637h1v1h-1zM337 637h1v1h-1zM338 638h1v1h-1zM339 638h1v1h-1zM340 638h1v1h-1zM341 637h1v1h-1zM342 637h1v1h-1zM343 637h1v1h-1zM344 637h1v1h-1zM345 638h1v1h-1zM346 638h1v1h-1zM347 639h1v1h-1zM348 639h1v1h-1zM349 640h1v2h-1zM350 642h1v1h-1zM351 643h1v1h-1zM352 644h1v2h-1zM353 646h1v1h-1zM354 646h1v1h-1zM355 647h1v1h-1zM356 647h1v1h-1zM357 648h1v1h-1zM358 648h1v1h-1zM359 647h1v1h-1zM360 646h1v1h-1zM361 645h1v1h-1zM362 644h1v1h-1zM363 643h1v1h-1zM364 642h1v1h-1zM365 641h1v1h-1zM366 641h1v1h-1zM367 640h1v1h-1zM368 639h1v1h-1zM369 639h1v1h-1zM370 638h1v1h-1zM371 638h1v1h-1zM372 637h1v1h-1zM373 637h1v1h-1zM374 637h1v1h-1zM375 637h1v1h-1zM376 636h1v1h-1zM377 636h1v1h-1zM378 635h1v2h-1zM379 633h1v2h-1zM380 630h1v3h-1zM381 628h1v2h-1zM382 626h1v2h-1zM383 623h1v3h-1zM384 621h1v2h-1zM385 618h1v3h-1zM386 616h1v2h-1zM387 614h1v2h-1zM388 612h1v2h-1zM389 610h1v2h-1zM390 608h1v2h-1zM391 607h1v1h-1zM392 605h1v2h-1zM393 604h1v1h-1zM394 604h1v1h-1zM395 604h1v1h-1zM396 604h1v1h-1zM397 604h1v1h-1zM398 604h1v1h-1zM399 605h1v2h-1zM400 607h1v2h-1zM401 609h1v2h-1zM402 611h1v2h-1zM403 613h1v2h-1zM404 615h1v2h-1zM405 617h1v2h-1zM406 619h1v2h-1zM407 621h1v2h-1zM408 623h1v1h-1zM409 624h1v1h-1zM410 625h1v2h-1zM411 627h1v1h-1zM412 628h1v1h-1zM413 629h1v1h-1zM414 630h1v1h-1zM415 631h1v1h-1zM416 631h1v1h-1zM417 632h1v1h-1zM418 632h1v2h-1zM419 628h1v4h-1zM420 624h1v4h-1zM421 621h1v3h-1zM422 617h1v4h-1zM423 613h1v4h-1zM424 608h1v5h-1zM425 603h1v5h-1zM426 599h1v4h-1zM427 594h1v5h-1zM428 589h1v5h-1zM429 584h1v5h-1zM430 578h1v6h-1zM431 573h1v5h-1zM432 568h1v5h-1zM433 563h1v5h-1zM434 559h1v4h-1zM435 554h1v5h-1zM436 550h1v4h-1zM437 546h1v4h-1zM438 543h1v3h-1zM439 543h1v1h-1zM440 542h1v1h-1zM441 542h1v1h-1zM442 541h1v1h-1zM443 541h1v1h-1zM444 539h1v2h-1zM445 537h1v2h-1zM446 536h1v1h-1zM447 534h1v2h-1zM448 533h1v1h-1zM449 533h1v1h-1zM450 532h1v1h-1zM451 532h1v1h-1zM452 531h1v1h-1zM453 531h1v1h-1zM454 532h1v2h-1zM455 534h1v1h-1zM456 535h1v1h-1zM457 536h1v2h-1zM458 538h1v2h-1zM459 540h1v2h-1zM460 542h1v2h-1zM461 544h1v2h-1zM462 546h1v2h-1zM463 548h1v1h-1zM464 549h1v1h-1zM465 550h1v1h-1zM466 551h1v1h-1zM467 552h1v1h-1zM468 553h1v1h-1zM469 554h1v2h-1zM470 556h1v1h-1zM471 557h1v1h-1zM472 558h1v2h-1zM473 560h1v1h-1zM474 559h1v1h-1zM475 558h1v1h-1zM476 558h1v1h-1zM477 557h1v1h-1zM478 556h1v1h-1zM479 556h1v1h-1zM480 556h1v1h-1zM481 555h1v1h-1zM482 555h1v1h-1zM483 555h1v1h-1zM484 554h1v1h-1zM485 553h1v1h-1zM486 552h1v1h-1zM487 551h1v1h-1zM488 550h1v1h-1zM489 549h1v1h-1zM490 547h1v2h-1zM491 546h1v1h-1zM492 545h1v1h-1zM493 544h1v1h-1zM494 544h1v1h-1zM495 543h1v1h-1zM496 543h1v1h-1zM497 542h1v1h-1zM498 542h1v1h-1zM499 543h1v1h-1zM500 544h1v1h-1zM501 545h1v1h-1zM502 546h1v1h-1zM503 547h1v1h-1zM504 547h1v1h-1zM505 547h1v1h-1zM506 547h1v1h-1zM507 547h1v1h-1zM508 547h1v1h-1zM509 545h1v2h-1zM510 543h1v2h-1zM511 541h1v2h-1zM512 539h1v2h-1zM513 538h1v1h-1zM514 536h1v2h-1zM515 535h1v1h-1zM516 534h1v1h-1zM517 532h1v2h-1zM518 531h1v1h-1zM519 530h1v1h-1zM520 530h1v1h-1zM521 529h1v1h-1zM522 529h1v1h-1zM523 528h1v1h-1zM524 528h1v1h-1zM525 529h1v1h-1zM526 529h1v1h-1zM527 530h1v1h-1zM528 530h1v1h-1zM529 530h1v1h-1zM530 530h1v1h-1zM531 529h1v1h-1zM532 529h1v1h-1zM533 529h1v1h-1zM534 530h1v2h-1zM535 532h1v2h-1zM536 534h1v2h-1zM537 536h1v2h-1zM538 538h1v1h-1zM539 539h1v1h-1zM540 540h1v1h-1zM541 541h1v1h-1zM542 542h1v1h-1zM543 543h1v1h-1zM544 543h1v1h-1zM545 543h1v1h-1zM546 543h1v1h-1zM547 543h1v1h-1zM548 543h1v1h-1zM549 543h1v1h-1zM550 543h1v1h-1zM551 544h1v1h-1zM552 544h1v1h-1zM553 544h1v1h-1zM554 543h1v1h-1zM555 543h1v1h-1zM556 542h1v1h-1zM557 542h1v1h-1zM558 541h1v1h-1zM559 541h1v1h-1zM560 541h1v1h-1zM561 542h1v1h-1zM562 542h1v1h-1zM563 542h1v1h-1zM564 542h1v1h-1zM565 543h1v1h-1zM566 543h1v1h-1zM567 544h1v1h-1zM568 544h1v1h-1zM569 543h1v1h-1zM570 543h1v1h-1zM571 542h1v1h-1zM572 542h1v1h-1zM573 541h1v1h-1zM574 540h1v1h-1zM575 540h1v1h-1zM576 539h1v1h-1zM577 539h1v1h-1zM578 537h1v2h-1zM579 534h1v3h-1zM580 531h1v3h-1zM581 529h1v2h-1zM582 526h1v3h-1zM583 523h1v3h-1zM584 521h1v2h-1zM585 519h1v2h-1zM586 517h1v2h-1zM587 515h1v2h-1zM588 513h1v2h-1zM589 513h1v1h-1zM590 513h1v1h-1zM591 514h1v1h-1zM592 514h1v1h-1zM593 514h1v1h-1zM594 514h1v1h-1zM595 513h1v1h-1zM596 513h1v1h-1zM597 512h1v1h-1zM598 512h1v1h-1zM599 513h1v1h-1zM600 514h1v2h-1zM601 516h1v1h-1zM602 517h1v1h-1zM603 518h1v1h-1zM604 519h1v1h-1zM605 519h1v1h-1zM606 520h1v1h-1zM607 520h1v1h-1zM608 521h1v1h-1zM609 522h1v1h-1zM610 523h1v1h-1zM611 524h1v1h-1zM612 525h1v1h-1zM613 526h1v1h-1zM614 527h1v1h-1zM615 528h1v2h-1zM616 530h1v1h-1zM617 531h1v1h-1zM618 532h1v2h-1zM619 534h1v2h-1zM620 536h1v3h-1zM621 539h1v2h-1zM622 541h1v2h-1zM623 543h1v2h-1zM624 545h1v1h-1zM625 546h1v2h-1zM626 548h1v1h-1zM627 549h1v1h-1zM628 550h1v1h-1zM629 551h1v2h-1zM630 553h1v1h-1zM631 554h1v1h-1zM632 555h1v2h-1zM633 557h1v1h-1z" fill="#2b86f5" shape-rendering="crispEdges"/>
<g shape-rendering="crispEdges">
<rect x="93" y="639" width="1" height="16" fill="#4ab684"/>
<rect x="98" y="632" width="1" height="8" fill="#e94359"/>
<rect x="103" y="613" width="1" height="27" fill="#e94359"/>
<rect x="108" y="605" width="1" height="35" fill="#e94359"/>
<rect x="113" y="603" width="1" height="37" fill="#e94359"/>
<rect x="118" y="590" width="1" height="50" fill="#e94359"/>
<rect x="123" y="581" width="1" height="59" fill="#e94359"/>
<rect x="128" y="566" width="1" height="74" fill="#e94359"/>
<rect x="133" y="573" width="1" height="67" fill="#e94359"/>
<rect x="138" y="572" width="1" height="68" fill="#e94359"/>
<rect x="143" y="574" width="1" height="66" fill="#e94359"/>
<rect x="148" y="597" width="1" height="43" fill="#e94359"/>
<rect x="153" y="624" width="1" height="16" fill="#e94359"/>
<rect x="158" y="639" width="1" height="6" fill="#4ab684"/>
<rect x="163" y="639" width="1" height="13" fill="#4ab684"/>
<rect x="168" y="639" width="1" height="11" fill="#4ab684"/>
<rect x="173" y="638" width="1" height="2" fill="#e94359"/>
<rect x="178" y="634" width="1" height="6" fill="#e94359"/>
<rect x="183" y="620" width="1" height="20" fill="#e94359"/>
<rect x="188" y="599" width="1" height="41" fill="#e94359"/>
<rect x="193" y="629" width="1" height="11" fill="#e94359"/>
<rect x="198" y="639" width="1" height="15" fill="#4ab684"/>
<rect x="203" y="639" width="1" height="24" fill="#4ab684"/>
<rect x="208" y="639" width="1" height="33" fill="#4ab684"/>
<rect x="213" y="639" width="1" height="40" fill="#4ab684"/>
<rect x="218" y="639" width="1" height="38" fill="#4ab684"/>
<rect x="223" y="639" width="1" height="31" fill="#4ab684"/>
<rect x="228" y="639" width="1" height="29" fill="#4ab684"/>
<rect x="233" y="639" width="1" height="33" fill="#4ab684"/>
<rect x="238" y="639" width="1" height="30" fill="#4ab684"/>
<rect x="243" y="639" width="1" height="34" fill="#4ab684"/>
<rect x="248" y="639" width="1" height="28" fill="#4ab684"/>
<rect x="253" y="639" width="1" height="25" fill="#4ab684"/>
<rect x="258" y="639" width="1" height="27" fill="#4ab684"/>
<rect x="263" y="639" width="1" height="15" fill="#4ab684"/>
<rect x="268" y="639" width="1" height="24" fill="#4ab684"/>
<rect x="273" y="639" width="1" height="20" fill="#4ab684"/>
<rect x="278" y="639" width="1" height="21" fill="#4ab684"/>
<rect x="283" y="639" width="1" height="21" fill="#4ab684"/>
<rect x="288" y="639" width="1" height="25" fill="#4ab684"/>
<rect x="293" y="639" width="1" height="26" fill="#4ab684"/>
<rect x="298" y="639" width="1" height="23" fill="#4ab684"/>
<rect x="303" y="639" width="1" height="7" fill="#4ab684"/>
<rect x="308" y="638" width="1" height="2" fill="#e94359"/>
<rect x="313" y="629" width="1" height="11" fill="#e94359"/>
<rect x="318" y="637" width="1" height="3" fill="#e94359"/>
<rect x="323" y="639" width="1" height="2" fill="#4ab684"/>
<rect x="328" y="639" width="1" height="7" fill="#4ab684"/>
<rect x="333" y="639" width="1" height="8" fill="#4ab684"/>
<rect x="338" y="639" width="1" height="12" fill="#4ab684"/>
<rect x="343" y="639" width="1" height="7" fill="#4ab684"/>
<rect x="348" y="639" width="1" height="10" fill="#4ab684"/>
<rect x="353" y="639" width="1" height="20" fill="#4ab684"/>
<rect x="358" y="639" width="1" height="21" fill="#4ab684"/>
<rect x="363" y="639" width="1" height="6" fill="#4ab684"/>
<rect x="368" y="637" width="1" height="3" fill="#e94359"/>
<rect x="373" y="635" width="1" height="5" fill="#e94359"/>
<rect x="378" y="635" width="1" height="5" fill="#e94359"/>
<rect x="383" y="620" width="1" height="20" fill="#e94359"/>
<rect x="388" y="601" width="1" height="39" fill="#e94359"/>
<rect x="393" y="595" width="1" height="45" fill="#e94359"/>
<rect x="398" y="605" width="1" height="35" fill="#e94359"/>
<rect x="403" y="622" width="1" height="18" fill="#e94359"/>
<rect x="408" y="639" width="1" height="5" fill="#4ab684"/>
<rect x="413" y="639" width="1" height="15" fill="#4ab684"/>
<rect x="418" y="639" width="1" height="19" fill="#4ab684"/>
<rect x="423" y="626" width="1" height="14" fill="#e94359"/>
<rect x="428" y="588" width="1" height="52" fill="#e94359"/>
<rect x="433" y="559" width="1" height="81" fill="#e94359"/>
<rect x="438" y="541" width="1" height="99" fill="#e94359"/>
<rect x="443" y="556" width="1" height="84" fill="#e94359"/>
<rect x="448" y="560" width="1" height="80" fill="#e94359"/>
<rect x="453" y="572" width="1" height="68" fill="#e94359"/>
<rect x="458" y="595" width="1" height="45" fill="#e94359"/>
<rect x="463" y="620" width="1" height="20" fill="#e94359"/>
<rect x="468" y="636" width="1" height="4" fill="#e94359"/>
<rect x="473" y="639" width="1" height="8" fill="#4ab684"/>
<rect x="478" y="639" width="1" height="1" fill="#4ab684"/>
<rect x="483" y="636" width="1" height="4" fill="#e94359"/>
<rect x="488" y="629" width="1" height="11" fill="#e94359"/>
<rect x="493" y="623" width="1" height="17" fill="#e94359"/>
<rect x="498" y="622" width="1" height="18" fill="#e94359"/>
<rect x="503" y="632" width="1" height="8" fill="#e94359"/>
<rect x="508" y="634" width="1" height="6" fill="#e94359"/>
<rect x="513" y="620" width="1" height="20" fill="#e94359"/>
<rect x="518" y="615" width="1" height="25" fill="#e94359"/>
<rect x="523" y="613" width="1" height="27" fill="#e94359"/>
<rect x="528" y="621" width="1" height="19" fill="#e94359"/>
<rect x="533" y="624" width="1" height="16" fill="#e94359"/>
<rect x="538" y="639" width="1" height="3" fill="#4ab684"/>
<rect x="543" y="639" width="1" height="11" fill="#4ab684"/>
<rect x="548" y="639" width="1" height="9" fill="#4ab684"/>
<rect x="553" y="639" width="1" height="9" fill="#4ab684"/>
<rect x="558" y="639" width="1" height="3" fill="#4ab684"/>
<rect x="563" y="639" width="1" height="4" fill="#4ab684"/>
<rect x="568" y="639" width="1" height="6" fill="#4ab684"/>
<rect x="573" y="638" width="1" height="2" fill="#e94359"/>
<rect x="578" y="634" width="1" height="6" fill="#e94359"/>
<rect x="583" y="614" width="1" height="26" fill="#e94359"/>
<rect x="588" y="601" width="1" height="39" fill="#e94359"/>
<rect x="593" y="609" width="1" height="31" fill="#e94359"/>
<rect x="598" y="612" width="1" height="28" fill="#e94359"/>
<rect x="603" y="627" width="1" height="13" fill="#e94359"/>
<rect x="608" y="635" width="1" height="5" fill="#e94359"/>
<rect x="613" y="639" width="1" height="5" fill="#4ab684"/>
<rect x="618" y="639" width="1" height="13" fill="#4ab684"/>
<rect x="623" y="639" width="1" height="31" fill="#4ab684"/>
<rect x="628" y="639" width="1" height="35" fill="#4ab684"/>
<rect x="633" y="639" width="1" height="40" fill="#4ab684"/>
</g>
<g shape-rendering="crispEdges">
<rect x="661" y="130" width="68" height="17" fill="#ff8205"/>
<rect x="662" y="131" width="67" height="15" fill="#fff"/>
</g>
<text x="664.6" y="143" font-size="12" fill="#ff8205" textLength="44" lengthAdjust="spacingAndGlyphs">155.737</text>
<path d="M720.5 126.5 L724.5 122.5 L728.5 126.5 Z M720.5 130.5 L724.5 126.5 L728.5 130.5 Z" fill="#ff8205"/>
<text class="cjk" x="92" y="14" font-size="11.7" fill="#111">美元日元</text>
<text class="cjk" x="139.5" y="14" font-size="12" fill="#ff7f1a">【日线】</text>
<g fill="none" stroke="#ff8f3a" stroke-width="0.85"><circle cx="192.6" cy="11.7" r="4.1"/><path d="M188.5 11.7H196.7M192.6 7.6V15.8"/></g>
<g shape-rendering="crispEdges">
<rect x="598" y="1" width="14" height="14" fill="#1b7dd1"/>
<rect x="599" y="2" width="12" height="12" fill="#fff"/>
<rect x="614" y="1" width="14" height="14" fill="#1b7dd1"/>
<rect x="615" y="2" width="12" height="12" fill="#fff"/>
<rect x="630" y="1" width="14" height="14" fill="#1b7dd1"/>
<rect x="646" y="1" width="14" height="14" fill="#1b7dd1"/>
<rect x="647" y="2" width="12" height="12" fill="#fff"/>
</g>
<g fill="#1b7dd1" shape-rendering="crispEdges">
<rect x="604" y="3" width="2" height="3" fill="#1b7dd1"/>
<rect x="604" y="10" width="2" height="3" fill="#1b7dd1"/>
<rect x="600" y="7" width="3" height="2" fill="#1b7dd1"/>
<rect x="607" y="7" width="3" height="2" fill="#1b7dd1"/>
<rect x="604" y="7" width="2" height="2" fill="#1b7dd1"/>
</g>
<g shape-rendering="crispEdges">
<rect x="617" y="4" width="1" height="8" fill="#1b7dd1"/>
<rect x="616" y="11" width="10" height="1" fill="#1b7dd1"/>
</g>
<path d="M616 5.4L617.5 3.2L619 5.4Z M624.2 10.1L626.4 11.5L624.2 12.9Z M617.6 10.4L616 11.5L617.6 12.6Z" fill="#1b7dd1"/>
<path d="M620 4.3H621.1V9.6H620Z M621.3 6.95L624 4.3V9.6Z" fill="#1b7dd1"/>
<g shape-rendering="crispEdges">
<rect x="633" y="4" width="1" height="8" fill="#fff"/>
<rect x="632" y="11" width="10" height="1" fill="#fff"/>
</g>
<path d="M632 5.4L633.5 3.2L635 5.4Z M640.2 10.1L642.4 11.5L640.2 12.9Z M633.6 10.4L632 11.5L633.6 12.6Z" fill="#fff"/>
<path d="M636 4.3H637.1V9.6H636Z M637 4.3L641 6.95L637 9.6Z" fill="#fff"/><path d="M637.6 5.6V8.3L639.4 6.95Z" fill="#a9cdee"/>
<rect x="648.5" y="3.5" width="3" height="9" fill="none" stroke="#1b7dd1" stroke-width="1" stroke-linejoin="bevel" shape-rendering="crispEdges"/>
<path d="M650.6 6.9H654.4V4.8L657.9 7.75L654.4 10.5V8.6H650.6Z" fill="#1b7dd1"/>
<g transform="translate(29.0 496.9)"><g stroke="#ff1414" stroke-width="1.3" fill="none"><path d="M0 -7.1V-5.1M0 5.1V7.1M-7.1 0H-5.1M5.1 0H7.1M-6 -5.8L-4.1 -4M6 -5.8L4.1 -4M-6 5.8L-4.1 4M6 5.8L4.1 4"/></g>
<circle cx="0" cy="0" r="3.5" fill="#fff" stroke="#000" stroke-width="1.1"/><circle cx="0" cy="0" r="1.9" fill="#ff0a0a"/></g>
<text x="92.5" y="504" font-size="12" fill="#1c1c1c" textLength="85" lengthAdjust="spacingAndGlyphs">MACD(26,12,9)</text>
<text x="182.8" y="504" font-size="12" fill="#4d94f0" textLength="58" lengthAdjust="spacingAndGlyphs">DIFF:0.885</text>
<text x="249.2" y="504" font-size="12" fill="#4cc27c" textLength="56.8" lengthAdjust="spacingAndGlyphs">DEA:1.097</text>
<text x="315.8" y="504" font-size="12" fill="#4db4ea" textLength="74.7" lengthAdjust="spacingAndGlyphs">MACD:-0.423</text>
<text x="195.2" y="692" font-size="12" fill="#1d1d38" font-weight="bold" textLength="44.2" lengthAdjust="spacingAndGlyphs">2025/08</text>
<text x="300.2" y="692" font-size="12" fill="#1d1d38" font-weight="bold" textLength="44.2" lengthAdjust="spacingAndGlyphs">2025/09</text>
<text x="410.2" y="692" font-size="12" fill="#1d1d38" font-weight="bold" textLength="44.2" lengthAdjust="spacingAndGlyphs">2025/10</text>
<text x="525.2" y="692" font-size="12" fill="#1d1d38" font-weight="bold" textLength="44.2" lengthAdjust="spacingAndGlyphs">2025/11</text>
<text class="cjk" x="34.4" y="696" font-size="12" fill="#ff6f0a" font-weight="bold">日线</text>
<path d="M64 693.6L68.5 685.4L73 693.6Z" fill="#ff6f0a"/>
</svg></body></html>
